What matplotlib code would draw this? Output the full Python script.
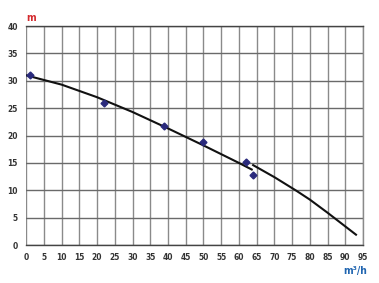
import matplotlib
matplotlib.use("Agg")
import matplotlib.pyplot as plt

# measured points (Q in m3/h, H in m)
pts_q = [1, 22, 39, 50, 62, 64]
pts_h = [31.0, 25.9, 21.8, 18.9, 15.2, 12.8]

# curve, first segment
c1_q = [0, 10, 20, 30, 40, 50, 60, 63.6]
c1_h = [31.0, 29.3, 27.0, 24.3, 21.3, 18.2, 15.0, 13.8]
# curve, second segment
c2_q = [64.0, 70, 76, 80, 85, 90, 93]
c2_h = [14.6, 12.4, 10.0, 8.3, 5.9, 3.4, 1.9]

x_ticks = list(range(0, 100, 5))
y_ticks = list(range(0, 45, 5))

plt.rcParams["font.family"] = ["DejaVu Sans"]

fig = plt.figure(figsize=(3.79, 2.83), dpi=100)
ax = fig.add_axes([0.069, 0.134, 0.889, 0.774])

for x in x_ticks:
    ax.axvline(x, color="#8a8a8a", lw=1.0, zorder=1)
for y in y_ticks:
    ax.axhline(y, color="#6a6a6a", lw=1.0, zorder=1)

ax.plot(c1_q, c1_h, color="#111111", lw=1.5, zorder=3)
ax.plot(c2_q, c2_h, color="#111111", lw=1.5, zorder=3)
ax.plot(pts_q, pts_h, ls="none", marker="D", ms=3.5, color="#2a2a7c", zorder=4)

ax.set_xlim(0, 95)
ax.set_ylim(0, 40)
ax.set_xticks(x_ticks)
ax.set_yticks(y_ticks)
ax.tick_params(length=0, labelsize=6, colors="#333333", pad=6)
for lab in ax.get_xticklabels() + ax.get_yticklabels():
    lab.set_fontweight("bold")
    lab.set_fontstretch("condensed")
for s in ax.spines.values():
    s.set_color("#444444")
    s.set_linewidth(1.0)
ax.spines["left"].set_visible(False)
ax.spines["right"].set_color("#8a8a8a")

fig.text(0.082, 0.936, "m", color="#d42a2e", fontsize=7.5, fontweight="bold",
         fontstretch="condensed", ha="center", va="center")
fig.text(0.937, 0.042, "m³/h", color="#2065b0", fontsize=7.5, fontweight="bold",
         fontstretch="condensed", ha="center", va="center")

fig.savefig("out.png", dpi=100)
